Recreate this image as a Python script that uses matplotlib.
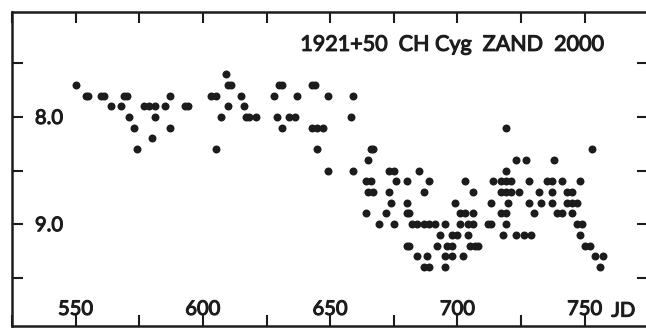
import matplotlib
matplotlib.use('Agg')
import matplotlib.pyplot as plt
import matplotlib.patheffects as pe

plt.rcParams['font.family'] = ['Lato', 'DejaVu Sans']

# CH Cyg visual estimates, JD 2451xxx
jd = [
    609,
    550, 610, 611, 630, 631, 643, 644,
    554, 555, 560, 561, 569, 570, 587, 603, 605, 615, 628, 637, 649, 659,
    564, 568, 577, 579, 581, 585, 593, 594, 610, 616,
    571, 581, 607, 617, 618, 621, 629, 634, 636, 658,
    573, 587, 631, 643, 645, 647, 719,
    580,
    574, 605, 645, 666, 667, 753,
    665, 723, 727, 738,
    649, 659, 673, 675, 685, 719,
    664, 666, 676, 680, 689, 703, 714, 717, 719, 721, 728, 735, 737, 741, 748,
    665, 667, 673, 687, 706, 717, 719, 721, 724, 732, 737, 743, 745,
    674, 680, 699, 713, 720, 728, 733, 737, 743, 745, 747,
    664, 672, 680, 681, 701, 703, 706, 717, 719, 730, 739, 741, 745,
    669, 675, 682, 684, 687, 689, 691, 695, 701, 704, 706, 712, 713, 719, 747, 749,
    693, 698, 700, 704, 718, 723, 726, 729, 748,
    680, 681, 692, 696, 698, 705, 707, 708, 750, 752,
    684, 688, 695, 698, 702, 754, 757,
    687, 689, 695, 756,
]
mag = [
    7.6,
    7.7, 7.7, 7.7, 7.7, 7.7, 7.7, 7.7,
    7.8, 7.8, 7.8, 7.8, 7.8, 7.8, 7.8, 7.8, 7.8, 7.8, 7.8, 7.8, 7.8, 7.8,
    7.9, 7.9, 7.9, 7.9, 7.9, 7.9, 7.9, 7.9, 7.9, 7.9,
    8.0, 8.0, 8.0, 8.0, 8.0, 8.0, 8.0, 8.0, 8.0, 8.0,
    8.1, 8.1, 8.1, 8.1, 8.1, 8.1, 8.1,
    8.2,
    8.3, 8.3, 8.3, 8.3, 8.3, 8.3,
    8.4, 8.4, 8.4, 8.4,
    8.5, 8.5, 8.5, 8.5, 8.5, 8.5,
    8.6, 8.6, 8.6, 8.6, 8.6, 8.6, 8.6, 8.6, 8.6, 8.6, 8.6, 8.6, 8.6, 8.6, 8.6,
    8.7, 8.7, 8.7, 8.7, 8.7, 8.7, 8.7, 8.7, 8.7, 8.7, 8.7, 8.7, 8.7,
    8.8, 8.8, 8.8, 8.8, 8.8, 8.8, 8.8, 8.8, 8.8, 8.8, 8.8,
    8.9, 8.9, 8.9, 8.9, 8.9, 8.9, 8.9, 8.9, 8.9, 8.9, 8.9, 8.9, 8.9,
    9.0, 9.0, 9.0, 9.0, 9.0, 9.0, 9.0, 9.0, 9.0, 9.0, 9.0, 9.0, 9.0, 9.0, 9.0, 9.0,
    9.1, 9.1, 9.1, 9.1, 9.1, 9.1, 9.1, 9.1, 9.1,
    9.2, 9.2, 9.2, 9.2, 9.2, 9.2, 9.2, 9.2, 9.2, 9.2,
    9.3, 9.3, 9.3, 9.3, 9.3, 9.3, 9.3,
    9.4, 9.4, 9.4, 9.4,
]

x_ticks = [525, 550, 575, 600, 625, 650, 675, 700, 725, 750, 775]
x_labels = ['', '550', '', '600', '', '650', '', '700', '', '750', '']
y_ticks = [7.5, 8.0, 8.5, 9.0, 9.5]
y_labels = ['', '8.0', '', '9.0', '']
title = '1921+50  CH Cyg  ZAND  2000'

ink = '#1c1c1c'
# the scan's lettering is heavier than Lato regular, thicken it a little
heavy = [pe.withStroke(linewidth=0.8, foreground=ink)]

fig = plt.figure(figsize=(6.46, 3.30), dpi=100)
ax = fig.add_axes([0.0186, 0.012, 0.985, 0.952])

ax.scatter(jd, mag, s=33, color=ink, linewidths=0, zorder=3)

ax.set_xlim(527.4, 774.9)
ax.set_ylim(9.95, 7.02)  # magnitudes, bright at top

ax.set_xticks(x_ticks, x_labels)
ax.set_yticks(y_ticks, y_labels)
ax.tick_params(axis='both', direction='in', top=True, right=True,
               length=8, width=1.5, color=ink, labelsize=14.5, labelcolor=ink)
ax.tick_params(axis='x', pad=-8)
ax.tick_params(axis='y', pad=-16.5)
for lab in ax.get_xticklabels():
    lab.set_verticalalignment('baseline')
    lab.set_path_effects(heavy)
for lab in ax.get_yticklabels():
    lab.set_horizontalalignment('left')
    lab.set_path_effects(heavy)

for sp in ax.spines.values():
    sp.set_linewidth(1.8)
    sp.set_color(ink)

ax.text(0.942, 0.03, 'JD', transform=ax.transAxes, ha='left', va='baseline',
        fontsize=14.5, color=ink, path_effects=heavy)
ax.text(0.453, 0.876, title, transform=ax.transAxes, ha='left', va='baseline',
        fontsize=15.5, color=ink, path_effects=heavy)

fig.savefig('out.png', dpi=100, facecolor='white')
